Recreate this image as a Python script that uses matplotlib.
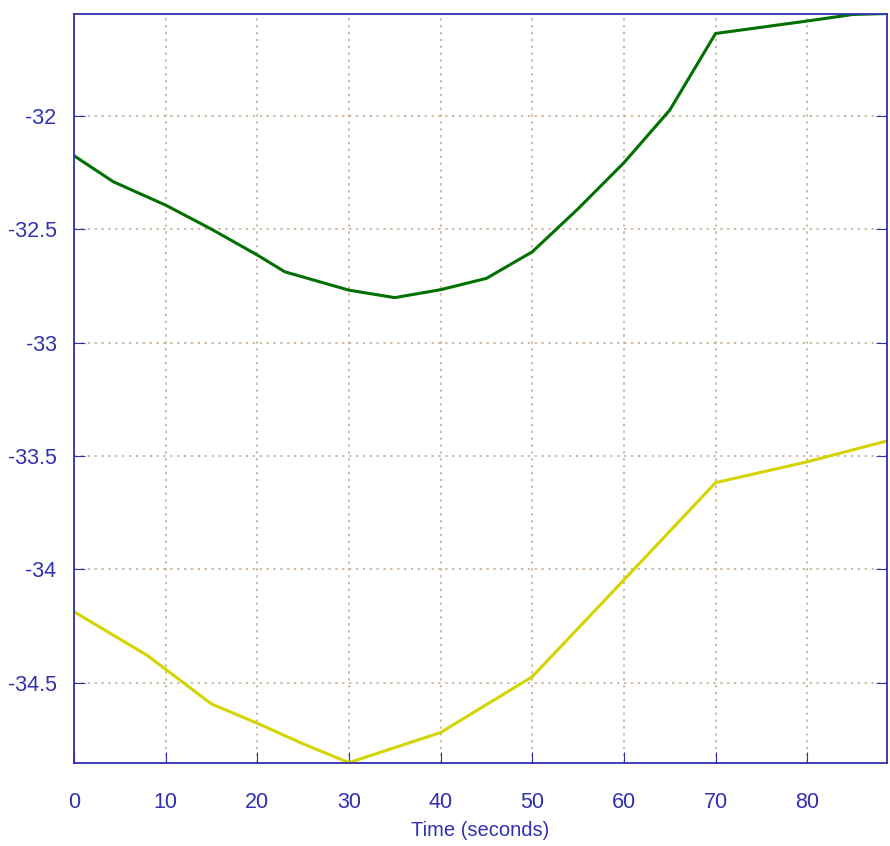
import numpy as np
import matplotlib.pyplot as plt

plt.rcParams['font.family'] = ['Liberation Sans', 'DejaVu Sans']

# upper (green) series
t_green = [0, 4.3, 10, 15, 20, 23, 30, 35, 40, 45, 50, 55, 60, 65, 70, 80, 85, 88.7]
v_green = [-32.176, -32.291, -32.394, -32.50, -32.614, -32.688, -32.769, -32.802,
           -32.767, -32.717, -32.600, -32.41, -32.207, -31.975, -31.637, -31.582,
           -31.553, -31.549]

# lower (yellow) series
t_yellow = [0, 8, 15, 20, 25, 30, 40, 50, 60, 70, 80, 88.7]
v_yellow = [-34.187, -34.38, -34.594, -34.679, -34.77, -34.853, -34.72, -34.474,
            -34.047, -33.618, -33.526, -33.434]

x_ticks = [0, 10, 20, 30, 40, 50, 60, 70, 80]
y_ticks = [-34.5, -34, -33.5, -33, -32.5, -32]
y_labels = ['-34.5', '-34', '-33.5', '-33', '-32.5', '-32']

blue = '#3030b0'

fig = plt.figure(figsize=(8.9, 8.46), dpi=100)
ax = fig.add_axes([0.0831, 0.0985, 0.9135, 0.8855])

ax.plot(t_green, v_green, color='#007000', lw=2.2)
ax.plot(t_yellow, v_yellow, color='#d4d400', lw=2.2)

ax.set_xlim(0, 88.7)
ax.set_ylim(-34.853, -31.549)

ax.set_xticks(x_ticks)
ax.set_yticks(y_ticks)
ax.set_yticklabels(y_labels)

ax.grid(True, color='#c0a890', linestyle=(0, (1.5, 3)), linewidth=1.1)

for s in ax.spines.values():
    s.set_color(blue)
    s.set_linewidth(1.3)

ax.tick_params(direction='in', length=8, color=blue, labelcolor=blue,
               labelsize=15.5, right=True, top=False)
ax.tick_params(axis='x', pad=21)
ax.tick_params(axis='y', pad=12.5)

ax.set_xlabel('Time (seconds)', color=blue, fontsize=14.5, labelpad=6)

fig.savefig('out.png', dpi=100)
